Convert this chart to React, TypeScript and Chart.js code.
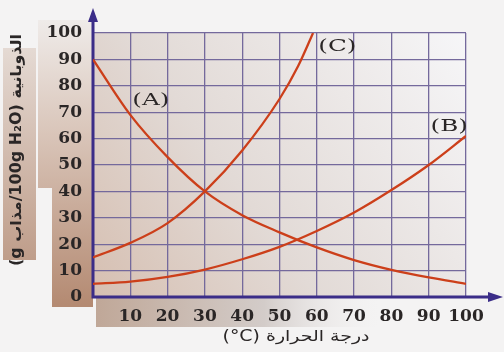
import React, { useEffect, useRef } from "react";
import { Chart, registerables } from "chart.js";
Chart.register(...registerables);

// Temperature (°C) and solubility (g solute / 100 g H2O)
const tempsA = [0, 10, 20, 30, 40, 50, 60, 70, 80, 90, 100];
const solA = [90, 69, 53, 40, 31, 24.5, 18.8, 14, 10.3, 7.4, 5];
const tempsB = [0, 10, 20, 30, 40, 50, 60, 70, 80, 90, 100];
const solB = [5, 5.8, 7.6, 10.4, 14.3, 19, 25, 32, 40.5, 50, 61];
const tempsC = [0, 10, 20, 30, 40, 50, 55, 59];
const solC = [15, 20.5, 28, 40, 55.5, 75, 87.5, 100];

const seriesNames = ["(A)", "(B)", "(C)"];
const xTitle = "(°C) درجة الحرارة";
const yTitle = "(g مذاب\u200E/100g H₂O) الذوبانية";

const LINE = "#cc3f1a";
const GRID = "#74699c";
const AXIS = "#3b2d88";
const TEXT = "#2a2626";

const toPts = (xs: number[], ys: number[]) => xs.map((x, i) => ({ x, y: ys[i] }));

const decor = {
  id: "decor",
  beforeDraw(chart: any) {
    const ctx = chart.ctx;
    const { left, right, top, bottom } = chart.chartArea;
    ctx.save();
    ctx.fillStyle = "#f4f3f3";
    ctx.fillRect(0, 0, chart.width, chart.height);
    // tan paper area behind y labels
    let g = ctx.createLinearGradient(0, 20, 0, 305);
    g.addColorStop(0, "#efebe9");
    g.addColorStop(0.4, "#d9c5b9");
    g.addColorStop(1, "#b48a72");
    ctx.fillStyle = g;
    ctx.fillRect(38, 20, left - 38, 168);
    ctx.fillRect(52, 185, left - 52, 122);
    g = ctx.createLinearGradient(0, 40, 0, 270);
    g.addColorStop(0, "#e6dcd6");
    g.addColorStop(1, "#bd9a86");
    ctx.fillStyle = g;
    ctx.fillRect(3, 48, 33, 212);
    // band under x axis
    g = ctx.createLinearGradient(90, 0, 380, 0);
    g.addColorStop(0, "#bfa696");
    g.addColorStop(0.6, "#d3ccc9");
    g.addColorStop(1, "rgba(240,239,239,0)");
    ctx.fillStyle = g;
    ctx.fillRect(96, bottom, 290, 30);
    // plot area shading
    g = ctx.createLinearGradient(left, bottom, right, top);
    g.addColorStop(0, "#d6bfb1");
    g.addColorStop(0.4, "#e2dad6");
    g.addColorStop(1, "#f6f6f8");
    ctx.fillStyle = g;
    ctx.fillRect(left, top, right - left, bottom - top);
    ctx.restore();
  },
  beforeDatasetsDraw(chart: any) {
    const ctx = chart.ctx;
    const { left, bottom } = chart.chartArea;
    ctx.save();
    ctx.strokeStyle = AXIS;
    ctx.fillStyle = AXIS;
    ctx.lineWidth = 3;
    ctx.beginPath();
    ctx.moveTo(left, bottom + 1.5);
    ctx.lineTo(left, 18);
    ctx.moveTo(left - 1.5, bottom);
    ctx.lineTo(492, bottom);
    ctx.stroke();
    ctx.beginPath();
    ctx.moveTo(left, 8);
    ctx.lineTo(left - 5, 22);
    ctx.lineTo(left + 5, 22);
    ctx.closePath();
    ctx.fill();
    ctx.beginPath();
    ctx.moveTo(503, bottom);
    ctx.lineTo(488, bottom - 5);
    ctx.lineTo(488, bottom + 5);
    ctx.closePath();
    ctx.fill();
    ctx.restore();
  },
  afterDraw(chart: any) {
    const ctx = chart.ctx;
    const xs = chart.scales.x;
    const ys = chart.scales.y;
    ctx.save();
    ctx.fillStyle = TEXT;
    ctx.textAlign = "center";
    ctx.textBaseline = "middle";
    const anchors = [
      [15.5, 74.5],
      [95.5, 64.5],
      [65.5, 95],
    ];
    ctx.font = "17px 'DejaVu Serif'";
    seriesNames.forEach((t, i) => {
      const px = xs.getPixelForValue(anchors[i][0]);
      const py = ys.getPixelForValue(anchors[i][1]);
      ctx.save();
      ctx.translate(px, py);
      ctx.scale(1.45, 1);
      ctx.fillText(t, 0, 0);
      ctx.restore();
    });
    // x title
    ctx.font = "15px 'DejaVu Sans'";
    ctx.save();
    ctx.translate(296, 337);
    const wx = ctx.measureText(xTitle).width;
    ctx.scale(147 / wx, 1);
    ctx.fillText(xTitle, 0, 0);
    ctx.restore();
    // y title
    ctx.font = "bold 15px 'DejaVu Sans'";
    ctx.save();
    ctx.translate(17, 150);
    ctx.rotate(-Math.PI / 2);
    const wy = ctx.measureText(yTitle).width;
    ctx.scale(232 / wy, 1);
    ctx.fillText(yTitle, 0, 0);
    ctx.restore();
    ctx.restore();
  },
};

export default function App() {
  const ref = useRef<HTMLCanvasElement>(null);
  useEffect(() => {
    document.body.style.margin = "0";
    const ds = (xs: number[], ys: number[]) => ({
      data: toPts(xs, ys),
      borderColor: LINE,
      borderWidth: 2.3,
      pointRadius: 0,
      cubicInterpolationMode: "monotone" as const,
      fill: false,
    });
    const chart = new Chart(ref.current!, {
      type: "line",
      data: {
        datasets: [ds(tempsA, solA), ds(tempsB, solB), ds(tempsC, solC)],
      },
      options: {
        responsive: false,
        animation: false,
        layout: { padding: { left: 0, top: 33, right: 38, bottom: 0 } },
        plugins: { legend: { display: false }, tooltip: { enabled: false } },
        scales: {
          x: {
            type: "linear",
            min: 0,
            max: 100,
            afterFit: (s: any) => {
              s.height = 55;
            },
            grid: { color: GRID, lineWidth: 1.3, drawTicks: false },
            border: { display: false },
            ticks: {
              stepSize: 10,
              padding: 9,
              color: TEXT,
              maxRotation: 0,
              minRotation: 0,
              autoSkip: false,
              font: { family: "'DejaVu Serif'", size: 17, weight: "bold" },
              callback: (v: any) => (v === 0 ? "" : String(v)),
            },
          },
          y: {
            type: "linear",
            min: 0,
            max: 100,
            afterFit: (s: any) => {
              s.width = 93;
            },
            grid: { color: GRID, lineWidth: 1.3, drawTicks: false },
            border: { display: false },
            ticks: {
              stepSize: 10,
              padding: 11,
              color: TEXT,
              font: { family: "'DejaVu Serif'", size: 17, weight: "bold" },
            },
          },
        },
      },
      plugins: [decor],
    });
    return () => chart.destroy();
  }, []);
  return (
    <div style={{ width: 504, height: 352 }}>
      <canvas ref={ref} width={504} height={352} />
    </div>
  );
}
